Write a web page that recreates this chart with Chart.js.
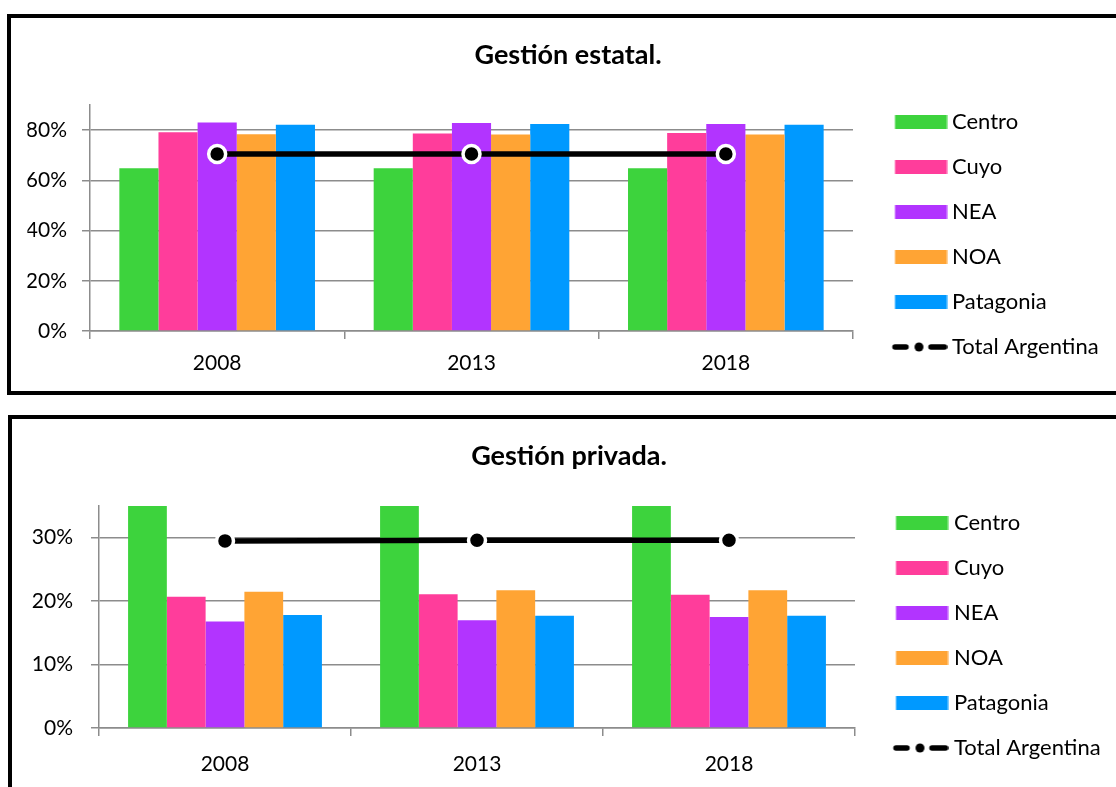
<!DOCTYPE html>
<html>
<head>
<meta charset="utf-8">
<script src="https://cdn.jsdelivr.net/npm/chart.js@4.4.1/dist/chart.umd.min.js"></script>
<style>
  body { margin: 0; background: #fff; width: 1116px; height: 787px; overflow: hidden; position: relative; }
  .box { position: absolute; border: 4px solid #000; box-sizing: border-box; background: #fff; }
  #boxA { left: 7px; top: 14px; width: 1122px; height: 381px; }
  #boxB { left: 8px; top: 415px; width: 1122px; height: 390px; }
  canvas { display: block; }
</style>
</head>
<body>
<div class="box" id="boxA"><canvas id="estatal" width="1114" height="373"></canvas></div>
<div class="box" id="boxB"><canvas id="privada" width="1114" height="382"></canvas></div>
<script>
// categories / series
var years = ['2008', '2013', '2018'];
var regions = ['Centro', 'Cuyo', 'NEA', 'NOA', 'Patagonia'];
var totalLabel = 'Total Argentina';
var colors = ['#3dd33d', '#ff3d9b', '#b234ff', '#ffa434', '#0099ff'];

// Gestión estatal
var estatalCentro    = [0.648, 0.648, 0.648];
var estatalCuyo      = [0.791, 0.787, 0.788];
var estatalNEA       = [0.830, 0.828, 0.824];
var estatalNOA       = [0.784, 0.783, 0.783];
var estatalPatagonia = [0.821, 0.824, 0.821];
var estatalTotal     = [0.705, 0.705, 0.705];
var estatalTicks     = [0, 0.2, 0.4, 0.6, 0.8];

// Gestión privada (Centro bars run past the 35% axis top)
var privadaCentro    = [0.352, 0.352, 0.352];
var privadaCuyo      = [0.207, 0.211, 0.210];
var privadaNEA       = [0.168, 0.170, 0.175];
var privadaNOA       = [0.215, 0.217, 0.217];
var privadaPatagonia = [0.178, 0.177, 0.177];
var privadaTotal     = [0.295, 0.296, 0.296];
var privadaTicks     = [0, 0.1, 0.2, 0.3];

var FONT = 'Lato';
var GRID = '#8c8c8c';
var TICK_SIZE = 21;
var LEG_SIZE = 22;
var TITLE_SIZE = 27;

// legend swatches as images so box size and spacing match the original
function legendIcons(geo) {
  var x0 = geo.right + geo.pad;
  var psw = geo.textX - LEG_SIZE / 2 - x0;
  var c = psw / 2;
  var bs = geo.boxX - x0 - 3, be = geo.boxX - x0 + 52;
  var half = Math.ceil(Math.max(be - c, c - bs));
  var off = c - half;
  var icons = colors.map(function (col) {
    var cv = document.createElement('canvas');
    cv.width = half * 2; cv.height = 14;
    var g = cv.getContext('2d');
    g.fillStyle = col;
    g.fillRect(geo.boxX - x0 - off, 0, 52, 14);
    return cv;
  });
  var lc = document.createElement('canvas');
  lc.width = half * 2; lc.height = 12;
  var g = lc.getContext('2d');
  var s = geo.boxX - x0 - off - 3;
  g.strokeStyle = '#000'; g.lineWidth = 5.5; g.lineCap = 'round';
  g.beginPath();
  g.moveTo(s + 3, 6); g.lineTo(s + 14, 6);
  g.moveTo(s + 39, 6); g.lineTo(s + 52.5, 6);
  g.stroke();
  g.fillStyle = '#000';
  g.beginPath(); g.arc(s + 27, 6, 4.5, 0, Math.PI * 2); g.fill();
  icons.push(lc);
  return { icons: icons, psw: psw };
}

function makeChart(id, title, series, total, ticks, yMax, geo) {
  var canvas = document.getElementById(id);
  var ctx = canvas.getContext('2d');
  ctx.font = LEG_SIZE + 'px ' + FONT;
  var textW = ctx.measureText(totalLabel).width;
  var leg = legendIcons(geo);
  var legendWidth = geo.pad + leg.psw + LEG_SIZE / 2 + textW + 10;
  // same padding both sides keeps the title centred on the whole frame
  var padSide = canvas.width - geo.right - legendWidth;
  var xAxisH = 8 + TICK_SIZE * 1.2 + 2 * geo.xPad;
  var padBottom = canvas.height - geo.bottom - xAxisH;
  var titleLH = TITLE_SIZE * 1.2;
  var titleTop = geo.titleY - titleLH / 2;

  var datasets = regions.map(function (r, i) {
    return {
      type: 'bar', label: r, data: series[i], backgroundColor: colors[i],
      borderWidth: 0, categoryPercentage: 5 / 6.5, barPercentage: 1, order: 1
    };
  });
  datasets.push({
    type: 'line', label: totalLabel, data: total,
    borderColor: '#000', borderWidth: 5.5,
    pointRadius: 8.5, pointBorderWidth: 3.5, pointBorderColor: '#fff', pointBackgroundColor: '#000',
    order: 0
  });

  return new Chart(ctx, {
    type: 'bar',
    data: { labels: years, datasets: datasets },
    options: {
      responsive: false,
      animation: false,
      layout: { padding: { left: padSide, top: 0, right: padSide, bottom: padBottom } },
      plugins: {
        tooltip: { enabled: false },
        title: {
          display: true, text: title, color: '#000',
          font: { family: FONT, size: TITLE_SIZE, weight: 'bold' },
          padding: { top: titleTop, bottom: geo.top - titleTop - titleLH }
        },
        legend: {
          position: 'right', align: 'start',
          title: { display: true, text: '', font: { size: 10 }, padding: (geo.legendY - LEG_SIZE / 2 - (45 - LEG_SIZE) - 12) / 2 },
          labels: {
            usePointStyle: true, pointStyleWidth: leg.psw, padding: 45 - LEG_SIZE,
            color: '#000', font: { family: FONT, size: LEG_SIZE },
            sort: function (a, b) { return a.datasetIndex - b.datasetIndex; },
            generateLabels: function (chart) {
              return Chart.defaults.plugins.legend.labels.generateLabels(chart).map(function (l) {
                l.pointStyle = leg.icons[l.datasetIndex];
                l.rotation = 0;
                return l;
              });
            }
          }
        }
      },
      scales: {
        x: {
          offset: true,
          grid: { offset: true, drawOnChartArea: false, drawTicks: true, tickLength: 8, color: GRID, lineWidth: 1.5 },
          border: { color: GRID, width: 1.5 },
          ticks: { color: '#000', font: { family: FONT, size: TICK_SIZE }, padding: geo.xPad }
        },
        y: {
          min: 0, max: yMax,
          afterBuildTicks: function (scale) {
            scale.ticks = ticks.map(function (v) { return { value: v }; });
          },
          afterFit: function (scale) { scale.width = geo.left - padSide; },
          grid: { color: GRID, lineWidth: 1.5, tickLength: 8 },
          border: { color: GRID, width: 1.5 },
          ticks: {
            color: '#000', font: { family: FONT, size: TICK_SIZE }, padding: geo.yPad,
            callback: function (v) { return Math.round(v * 100) + '%'; }
          }
        }
      }
    }
  });
}

makeChart('estatal', 'Gestión estatal.',
  [estatalCentro, estatalCuyo, estatalNEA, estatalNOA, estatalPatagonia], estatalTotal,
  estatalTicks, 0.9,
  { left: 79, right: 842, top: 87, bottom: 313, titleY: 37, legendY: 104,
    boxX: 884, textX: 941, pad: 23, xPad: 12, yPad: 15 });

makeChart('privada', 'Gestión privada.',
  [privadaCentro, privadaCuyo, privadaNEA, privadaNOA, privadaPatagonia], privadaTotal,
  privadaTicks, 0.35,
  { left: 87, right: 843, top: 87, bottom: 309, titleY: 37, legendY: 104,
    boxX: 884, textX: 942, pad: 23, xPad: 16, yPad: 18 });
</script>
</body>
</html>
